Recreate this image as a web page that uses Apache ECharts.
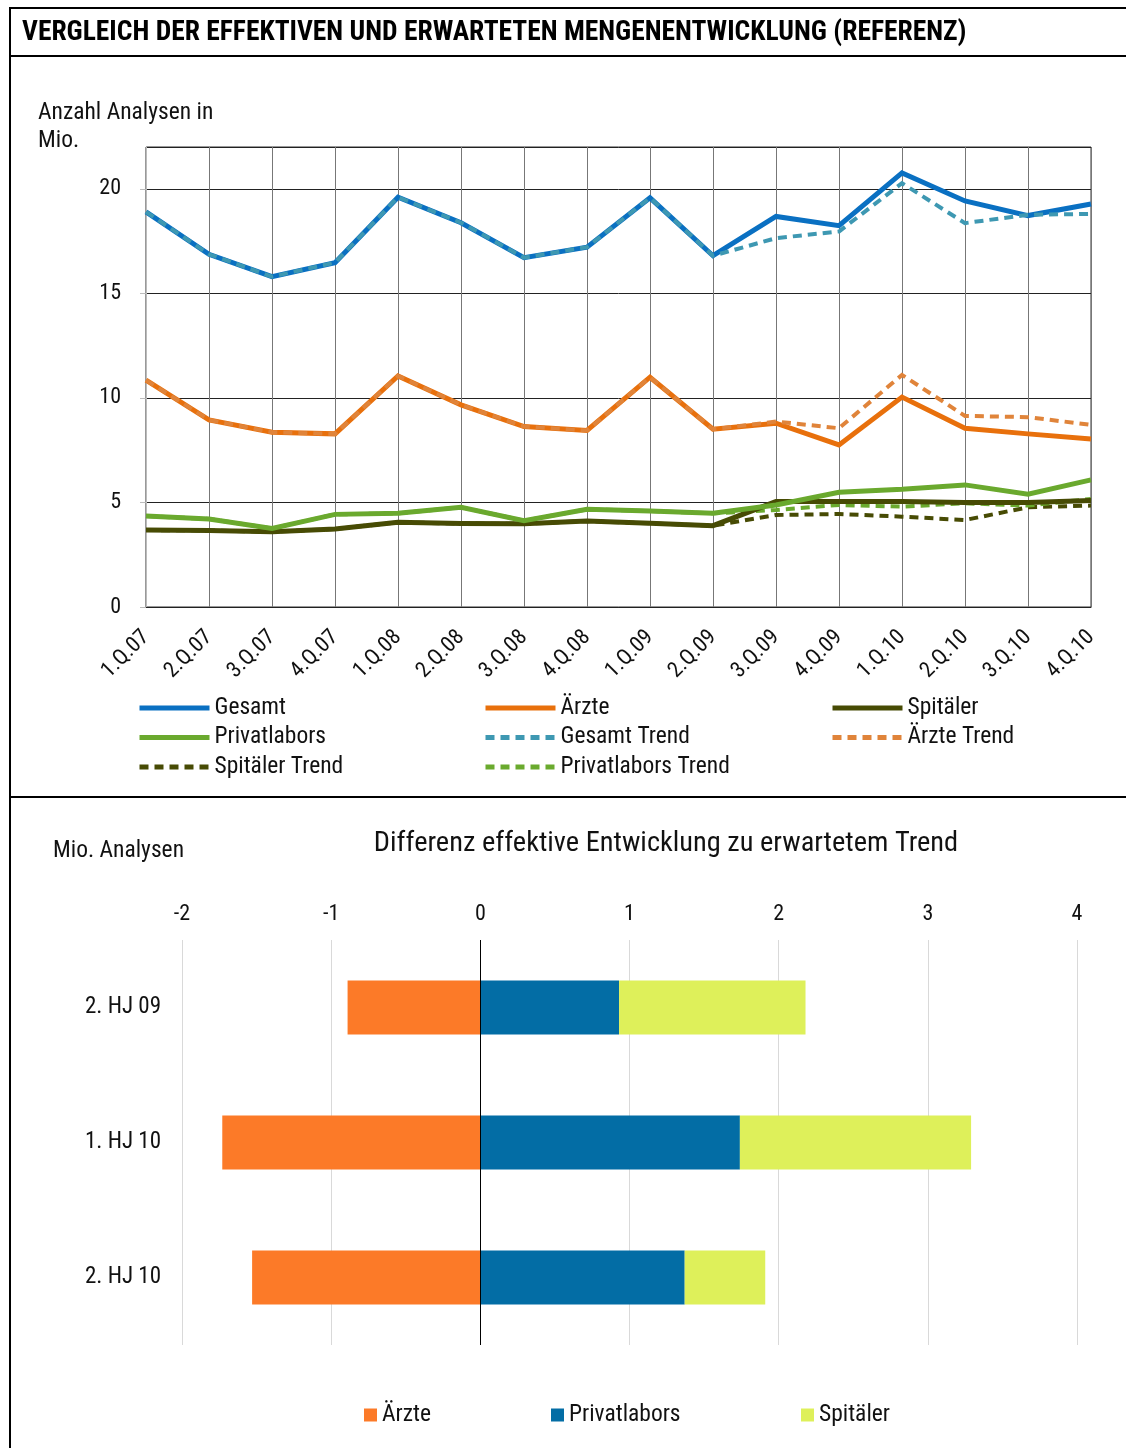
<!DOCTYPE html>
<html>
<head>
<meta charset="utf-8">
<script src="https://cdn.jsdelivr.net/npm/echarts@6/dist/echarts.min.js"></script>
<style>
  html, body { margin: 0; padding: 0; background: #fff; }
  #chart { width: 1126px; height: 1448px; }
</style>
</head>
<body>
<div id="chart"></div>
<script>
// Quarterly volumes (million analyses), 2007–2010
const quarters = ['1.Q.07','2.Q.07','3.Q.07','4.Q.07','1.Q.08','2.Q.08','3.Q.08','4.Q.08',
                  '1.Q.09','2.Q.09','3.Q.09','4.Q.09','1.Q.10','2.Q.10','3.Q.10','4.Q.10'];
const gesamt        = [18.9, 16.87, 15.8, 16.47, 19.6, 18.38, 16.71, 17.21, 19.57, 16.8, 18.68, 18.24, 20.76, 19.42, 18.72, 19.27];
const aerzte        = [10.85, 8.95, 8.36, 8.28, 11.05, 9.67, 8.63, 8.44, 10.99, 8.5, 8.79, 7.75, 10.04, 8.55, 8.28, 8.04];
const spitaeler     = [3.68, 3.66, 3.6, 3.73, 4.05, 3.99, 3.98, 4.11, 4.0, 3.89, 5.04, 5.05, 5.05, 5.0, 5.0, 5.09];
const privatlabors  = [4.35, 4.21, 3.76, 4.43, 4.48, 4.77, 4.13, 4.67, 4.59, 4.48, 4.88, 5.49, 5.63, 5.84, 5.39, 6.08];
const gesamtTrend   = [18.9, 16.87, 15.8, 16.47, 19.6, 18.38, 16.71, 17.21, 19.57, 16.8, 17.64, 17.96, 20.27, 18.36, 18.76, 18.8];
const aerzteTrend   = [10.85, 8.95, 8.36, 8.28, 11.05, 9.67, 8.63, 8.44, 10.99, 8.5, 8.87, 8.55, 11.1, 9.14, 9.08, 8.71];
const spitaelerTrend    = [3.68, 3.66, 3.6, 3.73, 4.05, 3.99, 3.98, 4.11, 4.0, 3.89, 4.4, 4.45, 4.32, 4.16, 4.77, 4.85];
const privatlaborsTrend = [4.35, 4.21, 3.76, 4.43, 4.48, 4.77, 4.13, 4.67, 4.59, 4.48, 4.64, 4.88, 4.8, 4.96, 4.85, 5.17];
const yTicks = [0, 5, 10, 15, 20];

// Difference actual vs. expected trend, per half-year
const halfYears = ['2. HJ 09', '1. HJ 10', '2. HJ 10'];
const diffAerzte       = [-0.89, -1.73, -1.53];
const diffPrivatlabors = [0.93, 1.74, 1.37];
const diffSpitaeler    = [1.25, 1.55, 0.54];
const xTicks = [-2, -1, 0, 1, 2, 3, 4];

const FONT = "'Roboto Condensed', 'Open Sans', sans-serif";

const C = {
  gesamt: '#0A70C2', gesamtT: '#3E98B2',
  aerzte: '#E8700C', aerzteT: '#E0843A',
  spit: '#474B04', spitT: '#474B04',
  priv: '#6AA92E', privT: '#6AAA2E',
  barA: '#FC7A28', barP: '#036DA5', barS: '#DEF05A'
};

function lineSeries(name, data, color, dashed, z) {
  return {
    type: 'line', name, data, xAxisIndex: 0, yAxisIndex: 0,
    symbol: 'none', showSymbol: false, smooth: false, z,
    lineStyle: { color, width: dashed ? 4 : 5, type: dashed ? [9, 6] : 'solid', cap: 'butt', join: 'miter' },
    itemStyle: { color }
  };
}
function barSeries(name, data, color) {
  return {
    type: 'bar', name, data, stack: 'diff', xAxisIndex: 1, yAxisIndex: 1,
    barWidth: 54, itemStyle: { color }
  };
}

const legendText = { fontFamily: FONT, fontSize: 23.5, color: '#111', lineHeight: 22 };
function lineLegend(left, names) {
  return {
    orient: 'vertical', left, top: 696, padding: 0, itemWidth: 70, itemHeight: 14, itemGap: 5.5,
    data: names, textStyle: legendText, selectedMode: false,
    itemStyle: { opacity: 0, borderWidth: 0 },
    lineStyle: { width: 5 }
  };
}
function barLegend(left, name) {
  return {
    left, top: 1403, padding: 0, itemWidth: 13, itemHeight: 13, icon: 'rect',
    data: [name], textStyle: legendText, selectedMode: false
  };
}

const chart = echarts.init(document.getElementById('chart'), null, { renderer: 'canvas' });
chart.setOption({
  animation: false,
  backgroundColor: '#fff',
  textStyle: { fontFamily: FONT },
  grid: [
    { left: 146, right: 35, top: 147, height: 460, show: true, borderColor: '#333', borderWidth: 1 },
    { left: 182, right: 49, top: 940, height: 405 }
  ],
  xAxis: [
    {
      gridIndex: 0, type: 'category', data: quarters, boundaryGap: false,
      axisLine: { lineStyle: { color: '#222', width: 1 } },
      axisTick: { show: false },
      axisLabel: { rotate: 45, fontSize: 22, color: '#111', margin: 27, fontFamily: FONT, interval: 0 },
      splitLine: { show: true, lineStyle: { color: '#777', width: 1 } }
    },
    {
      gridIndex: 1, type: 'value', position: 'top', min: -2, max: 4, interval: 1,
      axisLine: { show: false }, axisTick: { show: false },
      axisLabel: { fontSize: 22, color: '#111', margin: 15, fontFamily: FONT,
        formatter: v => xTicks.includes(v) ? String(v) : '' },
      splitLine: { show: true, lineStyle: { color: '#d9d9d9', width: 1 } }
    }
  ],
  yAxis: [
    {
      gridIndex: 0, type: 'value', min: 0, max: 22, interval: 5,
      axisLine: { show: true, lineStyle: { color: '#bbb' } },
      axisTick: { show: true, length: 6, lineStyle: { color: '#bbb' } },
      axisLabel: { fontSize: 22, color: '#111', margin: 25, fontFamily: FONT, showMaxLabel: false,
        padding: [4, 0, 0, 0],
        formatter: v => yTicks.includes(v) ? String(v) : '' },
      splitLine: { show: true, lineStyle: { color: '#222', width: 1 } }
    },
    {
      gridIndex: 1, type: 'category', data: halfYears, inverse: true,
      axisLine: { show: false }, axisTick: { show: false },
      axisLabel: { fontSize: 23, color: '#111', margin: 21, fontFamily: FONT, padding: [6, 0, 0, 0] }
    }
  ],
  legend: [
    lineLegend(137, ['Gesamt', 'Privatlabors', 'Spitäler Trend']),
    lineLegend(483, ['Ärzte', 'Gesamt Trend', 'Privatlabors Trend']),
    lineLegend(830, ['Spitäler', 'Ärzte Trend']),
    barLegend(364, 'Ärzte '),
    barLegend(551, 'Privatlabors '),
    barLegend(801, 'Spitäler ')
  ],
  series: [
    lineSeries('Spitäler Trend', spitaelerTrend, C.spitT, true, 2),
    lineSeries('Privatlabors Trend', privatlaborsTrend, C.privT, true, 2),
    lineSeries('Spitäler', spitaeler, C.spit, false, 3),
    lineSeries('Privatlabors', privatlabors, C.priv, false, 3),
    lineSeries('Gesamt', gesamt, C.gesamt, false, 3),
    lineSeries('Ärzte', aerzte, C.aerzte, false, 3),
    lineSeries('Gesamt Trend', gesamtTrend, C.gesamtT, true, 4),
    lineSeries('Ärzte Trend', aerzteTrend, C.aerzteT, true, 4),
    Object.assign(barSeries('Ärzte ', diffAerzte, C.barA), {
      markLine: {
        silent: true, symbol: 'none', label: { show: false },
        lineStyle: { color: '#000', width: 1, type: 'solid' },
        data: [{ xAxis: 0 }]
      }
    }),
    barSeries('Privatlabors ', diffPrivatlabors, C.barP),
    barSeries('Spitäler ', diffSpitaeler, C.barS)
  ],
  graphic: [
    // frame
    { type: 'line', shape: { x1: 9, y1: 8, x2: 1126, y2: 8 }, style: { stroke: '#000', lineWidth: 2 } },
    { type: 'line', shape: { x1: 9, y1: 56, x2: 1126, y2: 56 }, style: { stroke: '#000', lineWidth: 2 } },
    { type: 'line', shape: { x1: 9, y1: 797, x2: 1126, y2: 797 }, style: { stroke: '#000', lineWidth: 2 } },
    { type: 'line', shape: { x1: 10, y1: 7, x2: 10, y2: 1448 }, style: { stroke: '#000', lineWidth: 2 } },
    // titles
    { type: 'text', x: 22, y: 33, style: { text: 'VERGLEICH DER EFFEKTIVEN UND ERWARTETEN MENGENENTWICKLUNG (REFERENZ)',
      font: "bold 27.5px " + FONT, fill: '#000', verticalAlign: 'middle' } },
    { type: 'text', x: 38, y: 99, style: { text: 'Anzahl Analysen in\nMio.', font: "23.5px " + FONT, lineHeight: 28, fill: '#111' } },
    { type: 'text', x: 53, y: 851, style: { text: 'Mio. Analysen', font: "23.5px " + FONT, fill: '#111', verticalAlign: 'middle' } },
    { type: 'text', x: 666, y: 844, style: { text: 'Differenz effektive Entwicklung zu erwartetem Trend',
      font: "28.4px " + FONT, fill: '#111', align: 'center', verticalAlign: 'middle' } }
  ]
});
</script>
</body>
</html>
